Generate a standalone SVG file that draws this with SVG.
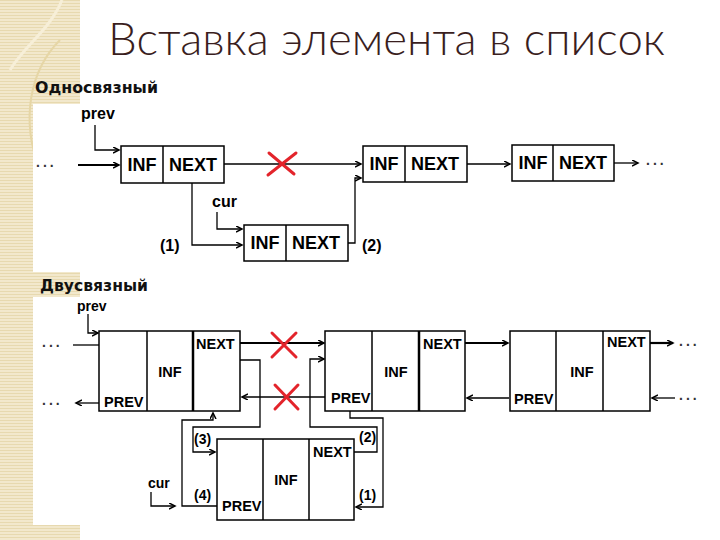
<svg xmlns="http://www.w3.org/2000/svg" width="720" height="540" viewBox="0 0 720 540">
<defs>
<pattern id="stripes" width="4" height="3" patternUnits="userSpaceOnUse">
<rect width="4" height="3" fill="#f2e8cc"/>
<rect width="4" height="1" fill="#e7d9af"/>
</pattern>
<marker id="ah" markerWidth="8" markerHeight="8" refX="6" refY="3" orient="auto" markerUnits="userSpaceOnUse">
<path d="M0,0 L6,3 L0,6" fill="none" stroke="#000" stroke-width="1.5"/>
</marker>
</defs>
<style>
.box{fill:#fff;stroke:#000;stroke-width:1.5}
.div{stroke:#000;stroke-width:1.5}
.thick{stroke:#000;stroke-width:2.5}
.ln{fill:none;stroke:#000;stroke-width:1.3}
.lnb{fill:none;stroke:#000;stroke-width:2.2}
.t1{font-family:"Liberation Sans",Arial,sans-serif;font-weight:bold;font-size:18px;fill:#000}
.t2{font-family:"Liberation Sans",Arial,sans-serif;font-weight:bold;font-size:14.5px;fill:#000}
.lab{font-family:"Liberation Sans",Arial,sans-serif;font-weight:bold;font-size:16px;fill:#000}
.lab2{font-family:"Liberation Sans",Arial,sans-serif;font-weight:bold;font-size:14px;fill:#000}
.dots{font-family:"Liberation Sans",Arial,sans-serif;font-weight:bold;font-size:14px;fill:#333;letter-spacing:3px}
.head{font-family:"DejaVu Sans",sans-serif;font-weight:bold;font-size:15px;fill:#111}
.x{stroke:#e3242b;stroke-width:3;stroke-linecap:round}
</style>
<rect width="720" height="540" fill="#fff"/>
<rect x="0" y="0" width="80" height="540" fill="url(#stripes)"/>
<path d="M62,0 C50,30 25,45 10,70" fill="none" stroke="#f7efd8" stroke-width="3"/>
<path d="M60,40 C30,70 20,120 40,170" fill="none" stroke="#e6d6a6" stroke-width="2"/>
<rect x="33" y="104" width="50" height="168" fill="#fff"/>
<rect x="33" y="297" width="50" height="228" fill="#fff"/>

<text x="108" y="55" font-family="Lato,'Liberation Sans',sans-serif" font-weight="300" font-size="45" fill="#3a1e1e" textLength="557" lengthAdjust="spacingAndGlyphs">Вставка элемента в список</text>
<text class="head" x="35" y="93" textLength="123" lengthAdjust="spacingAndGlyphs">Односвязный</text>
<text class="head" x="40" y="291" textLength="108" lengthAdjust="spacingAndGlyphs">Двусвязный</text>

<g id="connectors">
<path class="ln" d="M95,125 V150 H119" marker-end="url(#ah)"/>
<path class="lnb" d="M78,165 H119" marker-end="url(#ah)"/>
<path class="ln" d="M224,164 H361" marker-end="url(#ah)"/>
<path class="ln" d="M192,183 V245 H242" marker-end="url(#ah)"/>
<path class="ln" d="M217,212 V229 H242" marker-end="url(#ah)"/>
<path class="ln" d="M348,243 H355 V178 H361" marker-end="url(#ah)"/>
<path class="ln" d="M467,164 H510" marker-end="url(#ah)"/>
<path class="ln" d="M614,163 H638" marker-end="url(#ah)"/>

<path class="ln" d="M88,314 V333 H98" marker-end="url(#ah)"/>
<path class="ln" d="M73,345 H99"/>
<path class="ln" d="M99,403 H76" marker-end="url(#ah)"/>
<path class="lnb" d="M240,343 H324" marker-end="url(#ah)"/>
<path class="ln" d="M240,360 H260 V427 H193 V452 H215" marker-end="url(#ah)"/>
<path class="ln" d="M354,452 H377 V427 H310 V359 H324" marker-end="url(#ah)"/>
<path class="ln" d="M325,397 H242" marker-end="url(#ah)"/>
<path class="ln" d="M350,411 V418 H383 V507 H356" marker-end="url(#ah)"/>
<path class="ln" d="M217,506 H182 V420 H213 V413" marker-end="url(#ah)"/>
<path class="ln" d="M151,492 V506 H175" marker-end="url(#ah)"/>
<path class="lnb" d="M465,343 H508" marker-end="url(#ah)"/>
<path class="ln" d="M509,398 H467" marker-end="url(#ah)"/>
<path class="lnb" d="M650,343 H673" marker-end="url(#ah)"/>
<path class="ln" d="M675,398 H652" marker-end="url(#ah)"/>

<g id="crosses">
<path class="x" d="M269,153 L294,174 M296,153 L268,175"/>
<path class="x" d="M272,333 L296,357 M296,333 L272,357"/>
<path class="x" d="M275,385 L298,409 M298,385 L275,409"/>
</g>
</g>

<g id="s-prev"><text class="lab" x="81" y="119">prev</text></g>
<g id="s-dots"><text class="dots" x="36" y="167">...</text></g>
<g id="s-node1">
<rect class="box" x="121" y="146" width="103" height="37"/>
<line class="div" x1="163" y1="146" x2="163" y2="183"/>
<text class="t1" x="142" y="171" text-anchor="middle">INF</text>
<text class="t1" x="193" y="171" text-anchor="middle">NEXT</text>
</g>
<g id="s-cur"><text class="lab" x="212" y="207">cur</text></g>
<g id="s-lab1"><text class="lab" x="160" y="251">(1)</text></g>
<g id="s-lab2"><text class="lab" x="362" y="251">(2)</text></g>
<g id="s-newnode">
<rect class="box" x="244" y="225" width="104" height="36"/>
<line class="div" x1="286" y1="225" x2="286" y2="261"/>
<text class="t1" x="265" y="249" text-anchor="middle">INF</text>
<text class="t1" x="316" y="249" text-anchor="middle">NEXT</text>
</g>
<g id="s-node2">
<rect class="box" x="363" y="146" width="104" height="36"/>
<line class="div" x1="405" y1="146" x2="405" y2="182"/>
<text class="t1" x="384" y="170" text-anchor="middle">INF</text>
<text class="t1" x="435" y="170" text-anchor="middle">NEXT</text>
</g>
<g id="s-node3">
<rect class="box" x="512" y="145" width="102" height="36" stroke-width="2.5"/>
<line class="div" x1="553" y1="145" x2="553" y2="181"/>
<text class="t1" x="533" y="169" text-anchor="middle">INF</text>
<text class="t1" x="583" y="169" text-anchor="middle">NEXT</text>
</g>
<g id="s-dots2"><text class="dots" x="646" y="165">...</text></g>

<g id="d-prev"><text class="lab2" x="77" y="311">prev</text></g>
<g id="d-dots"><text class="dots" x="42" y="347">...</text><text class="dots" x="42" y="405">...</text></g>
<g id="d-node1">
<rect class="box" x="99" y="331" width="141" height="80"/>
<line class="div" x1="147" y1="331" x2="147" y2="411"/>
<line class="thick" x1="193" y1="331" x2="193" y2="411"/>
<text class="t2" x="196" y="349">NEXT</text>
<text class="t2" x="170" y="377" text-anchor="middle">INF</text>
<text class="t2" x="104" y="407">PREV</text>
</g>
<g id="d-node2">
<rect class="box" x="325" y="331" width="140" height="80"/>
<line class="div" x1="372" y1="331" x2="372" y2="411"/>
<line class="thick" x1="419" y1="331" x2="419" y2="411"/>
<text class="t2" x="423" y="349">NEXT</text>
<text class="t2" x="396" y="377" text-anchor="middle">INF</text>
<text class="t2" x="331" y="403">PREV</text>
</g>
<g id="d-node3">
<rect class="box" x="510" y="331" width="140" height="80"/>
<line class="div" x1="556" y1="331" x2="556" y2="411"/>
<line class="div" x1="603" y1="331" x2="603" y2="411"/>
<text class="t2" x="607" y="347">NEXT</text>
<text class="t2" x="582" y="377" text-anchor="middle">INF</text>
<text class="t2" x="514" y="404">PREV</text>
</g>
<g id="d-dots2"><text class="dots" x="679" y="346">...</text><text class="dots" x="679" y="400">...</text></g>
<g id="d-newnode">
<rect class="box" x="217" y="439" width="137" height="81"/>
<line class="div" x1="263" y1="439" x2="263" y2="520"/>
<line class="div" x1="309" y1="439" x2="309" y2="520"/>
<text class="t2" x="313" y="457">NEXT</text>
<text class="t2" x="286" y="485" text-anchor="middle">INF</text>
<text class="t2" x="222" y="511">PREV</text>
</g>
<g id="d-cur"><text class="lab2" x="148" y="488">cur</text></g>
<g id="d-labels">
<text class="lab2" x="194" y="444">(3)</text>
<text class="lab2" x="359" y="442">(2)</text>
<text class="lab2" x="194" y="500">(4)</text>
<text class="lab2" x="359" y="500">(1)</text>
</g>
</svg>
